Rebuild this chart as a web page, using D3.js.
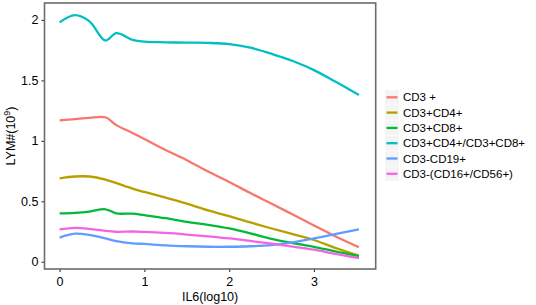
<!DOCTYPE html>
<html>
<head>
<meta charset="utf-8">
<script src="https://cdn.jsdelivr.net/npm/d3@7"></script>
<style>
  body { margin: 0; background: #fff; }
  text { font-family: "Liberation Sans", Arial, sans-serif; fill: #000; }
</style>
</head>
<body>
<svg id="drawing_region"></svg>
<script>
// IL6 (log10) positions where the smoothed curves were read
const il6 = [0, 0.18, 0.35, 0.54, 0.67, 0.86, 1.0, 1.25, 1.5, 1.75, 2.0, 2.25, 2.5, 2.75, 3.0, 3.25, 3.53];

const cd3 = [1.17, 1.18, 1.19, 1.195, 1.13, 1.065, 1.015, 0.924, 0.84, 0.746, 0.66, 0.568, 0.48, 0.39, 0.30, 0.211, 0.12];
const cd3cd4 = [0.69, 0.705, 0.705, 0.68, 0.65, 0.605, 0.577, 0.53, 0.48, 0.425, 0.377, 0.325, 0.275, 0.228, 0.18, 0.115, 0.05];
const cd3cd8 = [0.40, 0.405, 0.415, 0.434, 0.40, 0.398, 0.385, 0.36, 0.33, 0.305, 0.275, 0.235, 0.19, 0.155, 0.124, 0.085, 0.047];
const cd4cd8 = [1.98, 2.04, 1.99, 1.83, 1.89, 1.835, 1.82, 1.815, 1.812, 1.81, 1.80, 1.77, 1.72, 1.66, 1.585, 1.49, 1.38];
const cd19 = [0.20, 0.232, 0.222, 0.193, 0.17, 0.152, 0.147, 0.135, 0.128, 0.124, 0.124, 0.128, 0.138, 0.16, 0.193, 0.228, 0.267];
const nk = [0.267, 0.28, 0.272, 0.255, 0.248, 0.25, 0.247, 0.238, 0.225, 0.21, 0.193, 0.172, 0.15, 0.125, 0.10, 0.065, 0.03];

const seriesNames = ["CD3 +", "CD3+CD4+", "CD3+CD8+", "CD3+CD4+/CD3+CD8+", "CD3-CD19+", "CD3-(CD16+/CD56+)"];
const seriesValues = [cd3, cd3cd4, cd3cd8, cd4cd8, cd19, nk];
const colors = ["#F8766D", "#B79F00", "#00BA38", "#00BFC4", "#619CFF", "#F564E3"];

const xTicks = [0, 1, 2, 3];
const yTicks = [0, 0.5, 1, 1.5, 2];

const width = 536, height = 305;
const margin = {top: 3, right: 160, bottom: 36, left: 44.5};
const innerW = 375.7 - margin.left;
const innerH = 269 - margin.top;

const svg = d3.select('#drawing_region')
    .attr('width', width)
    .attr('height', height);

const chart = svg.append('g')
    .attr('transform', `translate(${margin.left}, ${margin.top})`);

const xscale = d3.scaleLinear()
    .domain([-0.178, 3.728])
    .range([0, innerW]);

const yscale = d3.scaleLinear()
    .domain([-0.06, 2.14])
    .range([innerH, 0]);

// axes
const xaxis = d3.axisBottom(xscale).tickValues(xTicks).tickFormat(d3.format('d')).tickSize(3).tickSizeOuter(0);
const yaxis = d3.axisLeft(yscale).tickValues(yTicks).tickFormat(d => String(d)).tickSize(3).tickSizeOuter(0);

const xg = chart.append('g')
    .attr('transform', `translate(0, ${innerH})`)
    .call(xaxis);
const yg = chart.append('g').call(yaxis);

[xg, yg].forEach(g => {
    g.select('.domain').remove();
    g.selectAll('line').attr('stroke', '#333').attr('stroke-width', 1.1);
    g.selectAll('text').attr('font-size', 12.5).style('font-family', '"Liberation Sans", Arial, sans-serif').attr('fill', '#000');
});
xg.selectAll('text').attr('dy', '0.9em');
yg.selectAll('text').attr('x', -6);

// lines
const line = d3.line()
    .x((d, i) => xscale(il6[i]))
    .y(d => yscale(d))
    .curve(d3.curveCatmullRom.alpha(0.5));

seriesValues.forEach((vals, k) => {
    chart.append('path')
        .attr('d', line(vals))
        .attr('fill', 'none')
        .attr('stroke', colors[k])
        .attr('stroke-width', 2.3)
        .attr('stroke-linecap', 'butt');
});

// panel border
chart.append('rect')
    .attr('x', 0).attr('y', 0)
    .attr('width', innerW).attr('height', innerH)
    .attr('fill', 'none')
    .attr('stroke', '#6b6b6b')
    .attr('stroke-width', 1.6);

// axis titles
svg.append('text')
    .attr('x', margin.left + innerW / 2)
    .attr('y', 301)
    .attr('text-anchor', 'middle')
    .attr('font-size', 12.5)
    .text('IL6(log10)');

const ytitle = svg.append('text')
    .attr('transform', `translate(15, ${margin.top + innerH / 2}) rotate(-90)`)
    .attr('text-anchor', 'middle')
    .attr('font-size', 12.5);
ytitle.append('tspan').text('LYM#(10');
ytitle.append('tspan').attr('dy', -5).attr('font-size', 9).text('9');
ytitle.append('tspan').attr('dy', 5).text(')');

// legend
const legend = svg.append('g').attr('transform', 'translate(385, 90)');
seriesNames.forEach((name, k) => {
    const gy = k * 15.3;
    legend.append('rect')
        .attr('x', 0).attr('y', gy)
        .attr('width', 14).attr('height', 14.6)
        .attr('fill', '#f4f4f4');
    legend.append('line')
        .attr('x1', 1.5).attr('x2', 12.5)
        .attr('y1', gy + 7.3).attr('y2', gy + 7.3)
        .attr('stroke', colors[k])
        .attr('stroke-width', 2.3);
    legend.append('text')
        .attr('x', 18).attr('y', gy + 7.3)
        .attr('dy', '0.36em')
        .attr('font-size', 11.5)
        .text(name);
});
</script>
</body>
</html>
